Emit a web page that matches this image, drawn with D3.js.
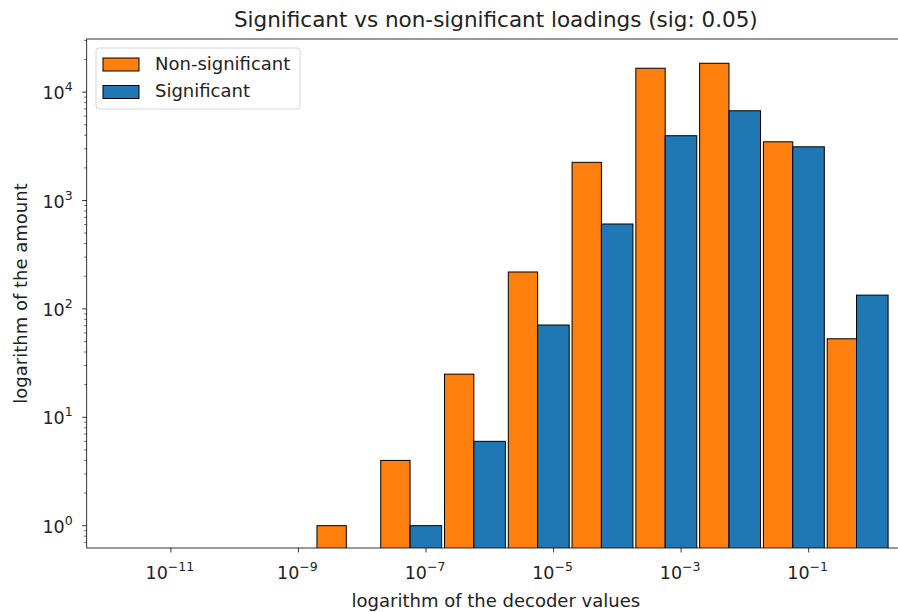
<!DOCTYPE html>
<html>
<head>
<meta charset="utf-8">
<script src="https://cdn.jsdelivr.net/npm/d3@7"></script>
<style>
  body { margin: 0; background: #fff; }
  svg { font-family: "DejaVu Sans", sans-serif; }
</style>
</head>
<body>
<div id="chart"></div>
<script>
// bins are one decade wide, start given as log10 of the decoder value
const binStarts = [-8.71, -7.71, -6.71, -5.71, -4.71, -3.71, -2.71, -1.71, -0.71];
const nonSignificant = [1, 4, 25, 219, 2250, 16600, 18450, 3480, 53];
const significant = [0, 1, 6, 71, 607, 3960, 6730, 3130, 134];
const seriesNames = ["Non-significant", "Significant"];
const xTickExps = [-11, -9, -7, -5, -3, -1];
const yTickExps = [0, 1, 2, 3, 4];

const width = 898;
const height = 612;
const margin = { top: 39, right: -7, bottom: 64, left: 86.7 };
const innerW = width - margin.left - margin.right;
const innerH = height - margin.top - margin.bottom;

const svg = d3
  .select("#chart")
  .append("svg")
  .attr("width", width)
  .attr("height", height);

const x = d3.scaleLinear().domain([-12.32, 0.51]).range([0, innerW]);
const y = d3.scaleLog().domain([Math.pow(10, -0.206), Math.pow(10, 4.49)]).range([innerH, 0]);

const g = svg.append("g").attr("transform", `translate(${margin.left},${margin.top})`);

svg.append("defs").append("clipPath").attr("id", "clip")
  .append("rect").attr("width", innerW).attr("height", innerH);

const bars = g.append("g").attr("clip-path", "url(#clip)");

const colors = ["#ff7f0e", "#1f77b4"];
const parts = [[0, 0.46], [0.46, 0.955]];

[nonSignificant, significant].forEach((vals, s) => {
  bars.selectAll(".b" + s)
    .data(vals.map((v, i) => ({ v, x0: binStarts[i] + parts[s][0], x1: binStarts[i] + parts[s][1] })).filter(d => d.v > 0))
    .enter()
    .append("rect")
    .attr("x", d => x(d.x0))
    .attr("width", d => x(d.x1) - x(d.x0))
    .attr("y", d => y(d.v))
    .attr("height", d => innerH + 10 - y(d.v))
    .attr("fill", colors[s])
    .attr("stroke", "#000")
    .attr("stroke-width", 1);
});

// spines
g.append("rect")
  .attr("width", innerW).attr("height", innerH)
  .attr("fill", "none").attr("stroke", "#000").attr("stroke-width", 0.8);

// x axis ticks
const xt = g.append("g").attr("transform", `translate(0,${innerH})`);
xTickExps.forEach(e => {
  const px = x(e);
  xt.append("line").attr("x1", px).attr("x2", px).attr("y1", 0).attr("y2", 4.5)
    .attr("stroke", "#000").attr("stroke-width", 0.8);
  const t = xt.append("text").attr("x", px - 1).attr("y", 31).attr("text-anchor", "middle")
    .attr("font-size", 17.5).attr("fill", "#222");
  t.append("tspan").text("10");
  t.append("tspan").attr("dy", -8).attr("font-size", 12.5).text("\u2212" + Math.abs(e));
});

// y axis ticks
const yt = g.append("g");
yTickExps.forEach(e => {
  const py = y(Math.pow(10, e));
  yt.append("line").attr("x1", -4.5).attr("x2", 0).attr("y1", py).attr("y2", py)
    .attr("stroke", "#000").attr("stroke-width", 0.8);
  const t = yt.append("text").attr("x", -14).attr("y", py + 7).attr("text-anchor", "end")
    .attr("font-size", 17.5).attr("fill", "#222");
  t.append("tspan").text("10");
  t.append("tspan").attr("dy", -8).attr("font-size", 12.5).text(e);
});
const [ylo, yhi] = y.domain();
for (let e = -1; e <= 4; e++) {
  for (let m = 2; m <= 9; m++) {
    const v = m * Math.pow(10, e);
    if (v < ylo || v > yhi) continue;
    yt.append("line").attr("x1", -2.5).attr("x2", 0).attr("y1", y(v)).attr("y2", y(v))
      .attr("stroke", "#000").attr("stroke-width", 0.6);
  }
}

// labels
svg.append("text")
  .attr("x", margin.left + innerW / 2).attr("y", 27)
  .attr("text-anchor", "middle").attr("font-size", 21.5).attr("fill", "#222")
  .text("Significant vs non-significant loadings (sig: 0.05)");

svg.append("text")
  .attr("x", margin.left + innerW / 2).attr("y", 607)
  .attr("text-anchor", "middle").attr("font-size", 18).attr("fill", "#222")
  .text("logarithm of the decoder values");

svg.append("text")
  .attr("transform", `translate(27,${margin.top + innerH / 2}) rotate(-90)`)
  .attr("text-anchor", "middle").attr("font-size", 18).attr("fill", "#222")
  .text("logarithm of the amount");

// legend
const lg = svg.append("g").attr("transform", "translate(96,48)");
lg.append("rect").attr("width", 204).attr("height", 61).attr("rx", 3)
  .attr("fill", "#fff").attr("fill-opacity", 0.8).attr("stroke", "#ccc").attr("stroke-width", 0.8);
seriesNames.forEach((name, i) => {
  lg.append("rect").attr("x", 7).attr("y", 10 + i * 27.5).attr("width", 36).attr("height", 13)
    .attr("fill", colors[i]).attr("stroke", "#000").attr("stroke-width", 1);
  lg.append("text").attr("x", 59).attr("y", 21.5 + i * 27.5).attr("font-size", 18).attr("fill", "#222")
    .text(name);
});
</script>
</body>
</html>
